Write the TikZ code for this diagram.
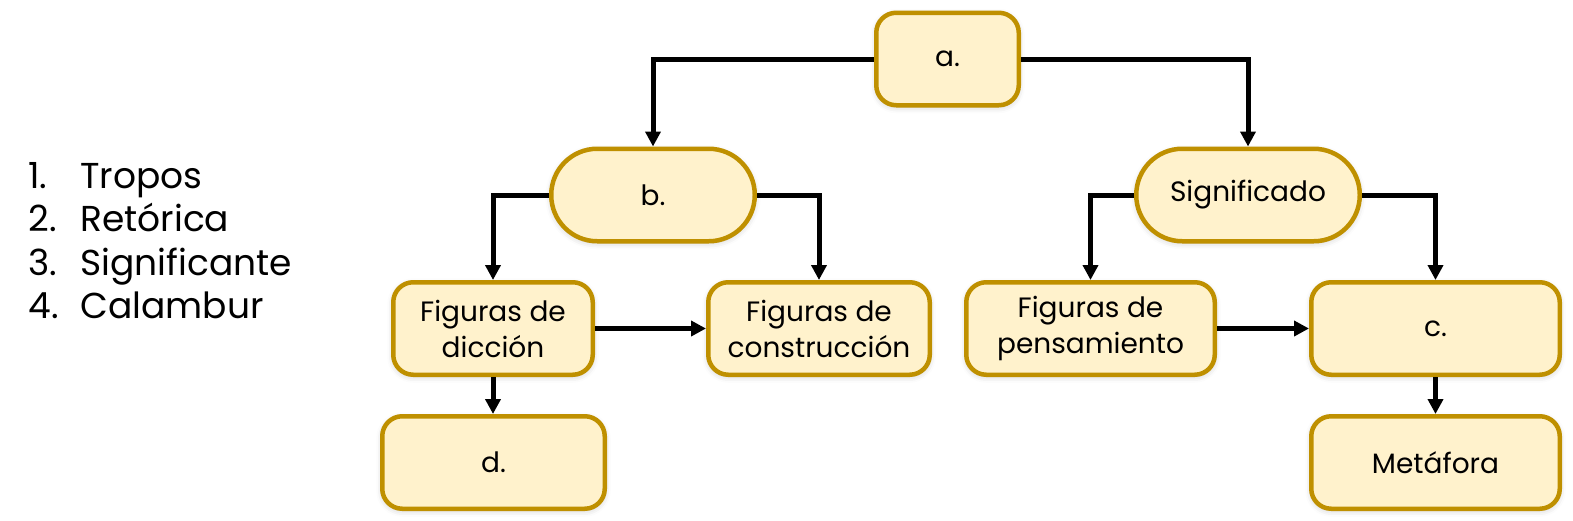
\documentclass[tikz,border=0pt]{standalone}
\usepackage{fontspec}
\setmainfont{Poppins}
\usetikzlibrary{arrows.meta,shadows.blur}
\definecolor{boxfill}{HTML}{FFF2CC}
\definecolor{boxdraw}{HTML}{BF9000}
\begin{document}
\begin{tikzpicture}[x=0.5pt,y=-0.5pt,
  box/.style={draw=boxdraw, fill=boxfill, line width=2.25pt, rounded corners=10pt,
    minimum height=46.25pt, align=center, inner sep=0pt,
    font=\fontsize{14}{18}\selectfont,
    blur shadow={shadow xshift=0pt, shadow yshift=-1pt, shadow blur radius=3pt, shadow opacity=20}},
  pill/.style={box, rounded corners=23pt},
  conn/.style={line width=2.5pt, -{Triangle[length=7.5pt,width=7.5pt]}},
  listtext/.style={anchor=base west, inner sep=0pt, font=\fontsize{18}{22}\selectfont}
]
\useasboundingbox (0,0) rectangle (1573,520);

% list
\node[listtext] (l1) at (28,188) {\makebox[26pt][l]{1.}Tropos};
\node[listtext] (l2) at (28,231.5) {\makebox[26pt][l]{2.}Retórica};
\node[listtext] (l3) at (28,275) {\makebox[26pt][l]{3.}Significante};
\node[listtext] (l4) at (28,318.5) {\makebox[26pt][l]{4.}Calambur};

% boxes
\node[box, minimum width=71.25pt] (a) at (947.5,59) {a.};
\node[pill, minimum width=101.75pt] (b) at (653,195) {b.};
\node[pill, minimum width=111.75pt] (sig) at (1248,195) {Significado};
\node[box, minimum width=99.75pt] (dic) at (493,328.5) {Figuras de\\dicción};
\node[box, minimum width=110.75pt] (cons) at (819,328.5) {Figuras de\\construcción};
\node[box, minimum width=124.25pt] (pens) at (1090.5,328.5) {Figuras de\\pensamiento};
\node[box, minimum width=124.25pt] (c) at (1435.5,328.5) {c.};
\node[box, minimum width=111.25pt] (d) at (493.5,462.5) {d.};
\node[box, minimum width=124.25pt] (met) at (1435.5,462.5) {Metáfora};

% connectors
\draw[conn] (a.west) -| (b.north);
\draw[conn] (a.east) -| (sig.north);
\draw[conn] (b.west) -| (dic.north);
\draw[conn] (b.east) -| (cons.north);
\draw[conn] (sig.west) -| (pens.north);
\draw[conn] (sig.east) -| (c.north);
\draw[conn] (dic.east) -- (cons.west);
\draw[conn] (pens.east) -- (c.west);
\draw[conn] (dic.south) -- (dic.south |- d.north);
\draw[conn] (c.south) -- (met.north);
\end{tikzpicture}
\end{document}
